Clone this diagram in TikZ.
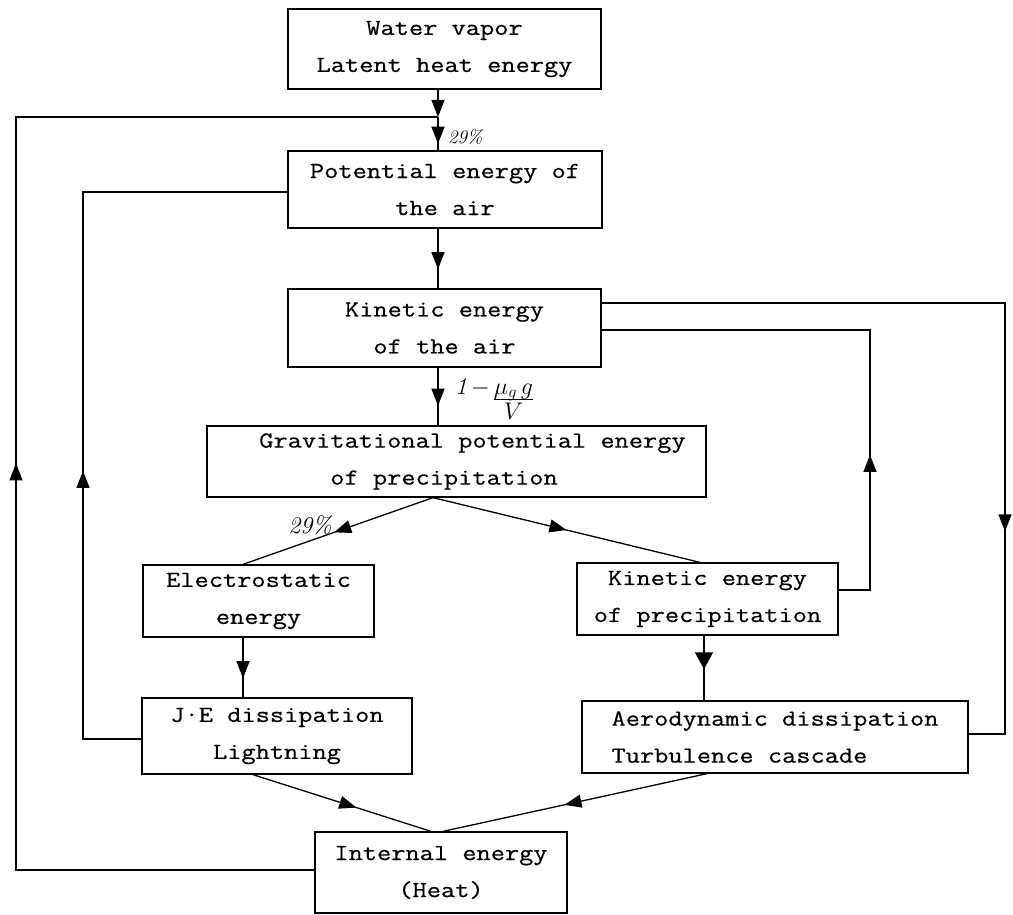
\RequirePackage{fix-cm}
\documentclass[tikz,border=0pt]{standalone}
\usepackage{fontspec}
\newfontfamily\boxfont[FakeStretch=1.2,FakeBold=0.6]{Latin Modern Mono}
\usetikzlibrary{arrows.meta,decorations.markings}
\tikzset{
  box/.style={draw, line width=1.3pt, inner sep=0pt, align=center,
    font=\boxfont\fontsize{23}{37}\selectfont},
  conn/.style={line width=1.3pt},
  arrowat/.style={postaction={decorate}, decoration={markings,
    mark=at position #1 with {\arrow{Triangle[length=17pt,width=13pt]}}}},
  bigarrowat/.style={postaction={decorate}, decoration={markings,
    mark=at position #1 with {\arrow{Triangle[length=17pt,width=18pt]}}}},
  hand/.style={font=\fontsize{19}{22}\selectfont\itshape},
  bighand/.style={font=\fontsize{24}{28}\selectfont\itshape}
}
\begin{document}
\begin{tikzpicture}[x=1pt,y=-1pt]
\fill[white] (0,0) rectangle (1013,915);
\useasboundingbox (0,0) rectangle (1013,915);

% boxes
\node[box, minimum width=313pt, minimum height=80pt] (wv) at (444.5,49) {Water vapor\\Latent heat energy};
\node[box, minimum width=314pt, minimum height=77pt] (pe) at (445,189.5) {Potential energy of\\the air};
\node[box, minimum width=313pt, minimum height=78pt] (ke) at (444.5,328) {Kinetic energy\\of the air};
\node[box, minimum width=499pt, minimum height=71pt] (gp) at (456.5,461.5) {\hspace*{32pt}Gravitational potential energy\\\hspace*{-25pt}of precipitation};
\node[box, minimum width=231pt, minimum height=72pt] (es) at (258.5,601) {Electrostatic\\energy};
\node[box, minimum width=261pt, minimum height=72pt] (kp) at (707.5,599) {Kinetic energy\\of precipitation};
\node[box, minimum width=270pt, minimum height=76pt] (je) at (277,736) {J·E dissipation\\Lightning};
\node[box, minimum width=386pt, minimum height=72pt, align=left] (ad) at (775,737) {Aerodynamic dissipation\\Turbulence cascade};
\node[box, minimum width=252pt, minimum height=81pt] (ie) at (441,872.5) {Internal energy\\(Heat)};

% main vertical chain
\coordinate (cx) at (438,0);
\coordinate (j1) at (438,117);
\draw[conn,-{Triangle[length=17pt,width=13pt]}] (wv.south -| cx) -- (j1);
\draw[conn,arrowat=0.8] (j1) -- (pe.north -| cx);
\draw[conn,arrowat=0.68] (pe.south -| cx) -- (ke.north -| cx);
\draw[conn,arrowat=0.66] (ke.south -| cx) -- (gp.north -| cx);

% outer left loop
\coordinate (L1) at (16,870);
\coordinate (L2) at (16,117);
\draw[conn] (ie.west |- L1) -- (L1) -- (L2) -- (j1);
\draw[conn,arrowat=0.54] (L1) -- (L2);

% inner left loop
\coordinate (M1) at (83,739);
\coordinate (M2) at (83,192);
\draw[conn] (je.west |- M1) -- (M1) -- (M2) -- (pe.west |- M2);
\draw[conn,arrowat=0.49] (M1) -- (M2);

% outer right loop
\coordinate (R1) at (1005,303);
\coordinate (R2) at (1005,734);
\draw[conn] (ke.east |- R1) -- (R1) -- (R2) -- (ad.east |- R2);
\draw[conn,arrowat=0.53] (R1) -- (R2);

% inner right loop
\coordinate (Q1) at (870,590);
\coordinate (Q2) at (870,330);
\draw[conn] (kp.east |- Q1) -- (Q1) -- (Q2) -- (ke.east |- Q2);
\draw[conn,arrowat=0.52] (Q1) -- (Q2);

% branches
\coordinate (gs) at ([xshift=-23.5pt]gp.south);
\draw[conn,arrowat=0.52] (gs) -- ([xshift=-15.5pt]es.north);
\draw[conn,arrowat=0.5] (gs) -- ([xshift=-7.5pt]kp.north);
\draw[conn,arrowat=0.68] ([xshift=-15.5pt]es.south) -- ([xshift=-15.5pt]es.south |- je.north);
\draw[conn,bigarrowat=0.52] ([xshift=-3.5pt]kp.south) -- ([xshift=-3.5pt]kp.south |- ad.north);
\draw[conn,arrowat=0.58] ([xshift=-24pt]je.south) -- ([xshift=-10pt]ie.north);
\draw[conn,arrowat=0.54] ([xshift=-68pt]ad.south) -- ([xshift=2pt]ie.north);

% labels
\node[hand, anchor=west, inner sep=0pt] (p1) at (448,137) {29\%};
\node[bighand, inner sep=0pt] (p2) at (310,525) {29\%};
\node[bighand, anchor=base west, inner sep=0pt] (mu) at (455,394)
  {1\,$-$\,\begin{tabular}[t]{@{}c@{}}$\mu_{g}\,g$\\[-3pt]\hline\rule{0pt}{18pt}$V$\end{tabular}};
\end{tikzpicture}
\end{document}
